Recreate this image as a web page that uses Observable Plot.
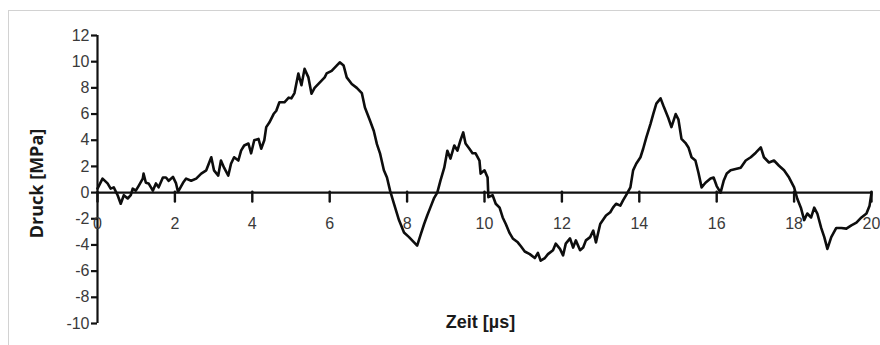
<!DOCTYPE html>
<html>
<head>
<meta charset="utf-8">
<script src="https://cdn.jsdelivr.net/npm/d3@7"></script>
<script src="https://cdn.jsdelivr.net/npm/@observablehq/plot@0.6"></script>
<style>
  html, body { margin: 0; padding: 0; background: #fff; }
  #wrap { position: relative; width: 880px; height: 345px; overflow: hidden; }
  #border { position: absolute; left: 8px; top: 10px; right: 0; bottom: 0;
            border-top: 1px solid #d2d2d2; border-left: 1px solid #d2d2d2; pointer-events: none; }
</style>
</head>
<body>
<div id="wrap"><div id="border"></div></div>
<script>
// Zeit [µs]
const time = [
  0.00,0.13,0.26,0.34,0.42,0.52,0.60,0.68,0.78,0.86,0.91,0.99,1.06,1.17,1.19,1.25,1.32,1.43,1.51,1.58,
  1.69,1.77,1.84,1.95,2.03,2.08,2.21,2.29,2.42,2.55,2.68,2.81,2.94,3.01,3.12,3.19,3.27,3.38,3.45,3.53,
  3.64,3.71,3.79,3.90,3.97,4.05,4.16,4.23,4.31,4.36,4.44,4.55,4.62,4.70,4.83,4.94,5.01,5.09,5.19,5.27,
  5.35,5.45,5.53,5.61,5.74,5.87,5.92,6.05,6.18,6.26,6.36,6.44,6.57,6.70,6.83,6.91,7.04,7.14,7.22,7.30,
  7.40,7.48,7.56,7.66,7.79,7.92,8.05,8.18,8.26,8.34,8.44,8.52,8.60,8.70,8.78,8.86,8.96,9.04,9.12,9.22,
  9.30,9.38,9.45,9.51,9.61,9.69,9.77,9.87,9.90,10.00,10.08,10.10,10.21,10.29,10.39,10.47,10.55,10.65,10.73,10.86,
  10.94,11.04,11.17,11.30,11.38,11.45,11.56,11.64,11.77,11.84,11.95,12.03,12.10,12.21,12.29,12.36,12.47,12.55,12.62,12.73,
  12.81,12.88,12.99,13.06,13.14,13.25,13.32,13.40,13.51,13.58,13.66,13.77,13.84,13.92,14.03,14.10,14.18,14.29,14.36,14.44,
  14.55,14.62,14.75,14.83,14.94,15.01,15.09,15.19,15.27,15.35,15.45,15.53,15.61,15.71,15.84,15.92,16.00,16.10,16.18,16.26,
  16.36,16.49,16.62,16.75,16.88,17.01,17.14,17.22,17.35,17.48,17.61,17.74,17.87,18.00,18.08,18.18,18.26,18.34,18.44,18.52,
  18.60,18.70,18.78,18.86,18.96,19.09,19.22,19.35,19.48,19.61,19.74,19.87,19.95,20.00
];
// Druck [MPa]
const pressure = [
  0.3,1.07,0.7,0.3,0.4,-0.2,-0.85,-0.2,-0.45,-0.2,0.3,0.15,0.5,1.07,1.45,0.75,0.7,0.15,0.7,0.4,
  1.15,1.15,0.9,1.2,0.7,0.05,0.75,1.07,0.9,1.07,1.45,1.7,2.7,1.7,1.3,2.45,1.9,1.3,2.2,2.7,
  2.45,3.2,3.6,3.75,3.0,4.0,4.1,3.35,4.0,5.0,5.35,6.0,6.25,6.9,6.9,7.25,7.2,7.6,9.1,8.2,
  9.45,8.8,7.55,8.0,8.4,8.8,9.1,9.3,9.7,9.95,9.7,8.8,8.3,8.0,7.6,6.5,5.5,4.7,3.7,3.0,
  1.7,1.15,0.15,-0.85,-2.1,-3.05,-3.4,-3.8,-4.05,-3.3,-2.4,-1.75,-1.15,-0.4,0.0,0.9,1.9,3.2,2.6,3.6,
  3.2,4.0,4.6,3.75,3.35,3.0,3.0,2.45,1.45,1.7,1.15,-0.35,-0.2,-0.85,-1.15,-1.9,-2.4,-3.1,-3.5,-3.8,
  -4.1,-4.5,-4.7,-5.0,-4.6,-5.2,-5.0,-4.7,-4.4,-3.9,-4.3,-4.8,-3.9,-3.5,-4.2,-3.65,-4.4,-4.2,-3.65,-3.4,
  -2.9,-3.8,-2.4,-2.1,-1.75,-1.5,-1.15,-0.85,-1.0,-0.6,-0.2,0.4,1.7,2.2,2.7,3.35,4.2,5.25,6.0,6.8,
  7.2,6.65,5.7,5.0,6.0,5.6,4.1,3.8,3.45,2.7,2.45,1.5,0.4,0.75,1.07,1.15,0.5,0.0,0.9,1.45,
  1.7,1.8,1.9,2.45,2.7,3.05,3.45,2.7,2.3,2.45,2.05,1.7,1.15,0.4,-0.45,-1.2,-2.1,-1.6,-1.9,-1.15,
  -1.6,-2.7,-3.4,-4.3,-3.4,-2.7,-2.7,-2.75,-2.5,-2.3,-1.9,-1.6,-1.0,0.0
];
const xTicks = [0,2,4,6,8,10,12,14,16,18,20];
const yTicks = [12,10,8,6,4,2,0,-2,-4,-6,-8,-10];
const xLabel = "Zeit [µs]";
const yLabel = "Druck [MPa]";

const data = time.map((t, i) => ({t, p: pressure[i]}));

// straight tick shape for vectors (same idea Plot uses for its own axis ticks)
const tickShape = {draw(ctx, l) { ctx.moveTo(0, 1); ctx.lineTo(0, -l); }};

const chart = Plot.plot({
  width: 880,
  height: 345,
  marginLeft: 97,
  marginRight: 9,
  marginTop: 35,
  marginBottom: 22,
  style: {fontFamily: "Liberation Sans, Arial, sans-serif", background: "transparent"},
  x: {domain: [0, 20], axis: null},
  y: {domain: [-10, 12], axis: null},
  marks: [
    Plot.axisY({ticks: yTicks, tickSize: 6, tickPadding: 2, stroke: "#111", strokeWidth: 2.2,
                fill: "#3a3a3a", fontSize: 16, label: null, tickFormat: d => String(d)}),
    Plot.ruleX([0], {stroke: "#111", strokeWidth: 2.2}),
    Plot.vector(xTicks, {x: d => d, y: 0, length: 9, rotate: 180, anchor: "start", shape: tickShape,
                         stroke: "#111", strokeWidth: 2.4}),
    Plot.text(xTicks, {x: d => d, y: 0, dy: 31, text: d => String(d), fill: "#3a3a3a", fontSize: 16}),
    Plot.ruleY([0], {stroke: "#111", strokeWidth: 2.2}),
    Plot.line(data, {x: "t", y: "p", stroke: "#0d0d0d", strokeWidth: 2.6, strokeLinejoin: "round"}),
    Plot.text([yLabel], {frameAnchor: "left", textAnchor: "middle", lineAnchor: "middle", dx: -60, dy: 4,
                         rotate: -90, fontFamily: "Open Sans", fontWeight: "bold", fontSize: 18, fill: "#1a1a1a"}),
    Plot.text([xLabel], {frameAnchor: "bottom", textAnchor: "middle", lineAnchor: "middle", dx: -4, dy: -1,
                         fontWeight: "bold", fontSize: 18, fill: "#1a1a1a"})
  ]
});
document.getElementById("wrap").prepend(chart);
</script>
</body>
</html>
